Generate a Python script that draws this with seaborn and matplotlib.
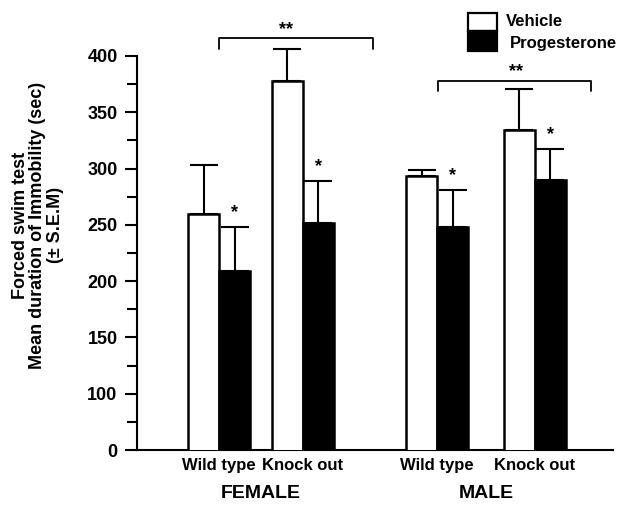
import numpy as np
import pandas as pd
import seaborn as sns
import matplotlib.pyplot as plt
import matplotlib.transforms as mtransforms
from matplotlib.patches import Rectangle

sexes = ["FEMALE"] * 4 + ["MALE"] * 4
genotypes = ["Wild type", "Wild type", "Knock out", "Knock out"] * 2
treatments = ["Vehicle", "Progesterone"] * 4
immobility = [260, 209, 378, 252, 293, 248, 334, 290]
sem = [43, 39, 28, 37, 6, 33, 37, 27]
stars = ["", "*", "", "*", "", "*", "", "*"]

# vehicle vs progesterone (KO vs WT) comparisons
bracket_y = [415.6, 377.8]
bracket_x = [(0.5, 5.46), (7.57, 12.49)]
bracket_star_x = [2.65, 10.08]

# bar centres in bar widths, groups are unevenly spaced in the original
bar_pos = [0, 1, 2.69, 3.69, 7.03, 8.03, 10.18, 11.18]

df = pd.DataFrame({"sex": sexes, "genotype": genotypes, "treatment": treatments,
                   "immobility": immobility, "sem": sem, "pos": bar_pos})

sns.set_style("ticks")
plt.rcParams["font.family"] = ["Liberation Sans", "DejaVu Sans"]
plt.rcParams["font.weight"] = "bold"
for k in ["text.color", "axes.labelcolor", "xtick.color", "ytick.color",
          "axes.edgecolor"]:
    plt.rcParams[k] = "black"

fig = plt.figure(figsize=(6.24, 5.11), dpi=100)
ax = fig.add_axes([137 / 624, 61 / 511, 476 / 624, 394 / 511])

sns.barplot(data=df, x="pos", y="immobility", hue="treatment",
            hue_order=["Vehicle", "Progesterone"], palette=["white", "black"],
            native_scale=True, dodge=False, width=1.0, edgecolor="black",
            linewidth=1.8, legend=False, ax=ax, zorder=3)

eb = ax.errorbar(df["pos"], df["immobility"], yerr=[np.zeros(len(df)), df["sem"]],
                 fmt="none", ecolor="black", elinewidth=1.5, capsize=10,
                 capthick=1.5, zorder=2)
for a in list(eb.lines[1]) + list(eb.lines[2]):
    a.set_clip_on(False)

for p, v, e, s in zip(df["pos"], df["immobility"], df["sem"], stars):
    if s:
        ax.text(p, v + e + 13, s, ha="center", va="center", fontsize=13,
                fontweight="bold")

for (x0, x1), y, sx in zip(bracket_x, bracket_y, bracket_star_x):
    ax.plot([x0, x0, x1, x1], [y - 9, y, y, y - 9], color="black", lw=1.3,
            clip_on=False)
    ax.text(sx, y + 8, "**", ha="center", va="center", fontsize=13,
            fontweight="bold", clip_on=False)

ax.set_xlim(-2.15, 13.2)
ax.set_ylim(50, 400)
ax.set_yticks([50, 100, 150, 200, 250, 300, 350, 400])
ax.set_yticklabels(["0", "100", "150", "200", "250", "300", "350", "400"],
                   fontsize=13, fontweight="bold")
ax.set_yticks(np.arange(75, 400, 50), minor=True)
ax.tick_params(axis="y", which="major", length=9, width=1.5, pad=5)
ax.tick_params(axis="y", which="minor", length=7.5, width=1.5)

pair_pos = df.groupby(["sex", "genotype"], sort=False)["pos"].mean()
ax.set_xticks(pair_pos.values)
ax.set_xticklabels([g for _, g in pair_pos.index], fontsize=12, fontweight="bold")
ax.tick_params(axis="x", length=0, pad=6)

trans = mtransforms.blended_transform_factory(ax.transData, fig.transFigure)
sex_pos = df.groupby("sex", sort=False)["pos"].mean()
for sx, p in sex_pos.items():
    ax.text(p, 1 - 493 / 511, sx, transform=trans, ha="center", va="center",
            fontsize=14, fontweight="bold")

ax.set_xlabel("")
ax.set_ylabel("")
fig.text(38 / 624, 1 - 225 / 511,
         "Forced swim test\nMean duration of Immobility (sec)\n(\u00b1 S.E.M)",
         rotation=90, ha="center", va="center", multialignment="center",
         fontsize=13, fontweight="bold", linespacing=1.0)

sns.despine(ax=ax)
for sp in ["left", "bottom"]:
    ax.spines[sp].set_linewidth(1.5)

# legend drawn as two stacked boxes like the original
fig.add_artist(Rectangle((468 / 624, 1 - 30.7 / 511), 29 / 624, 18 / 511,
                         transform=fig.transFigure, facecolor="white",
                         edgecolor="black", lw=1.6))
fig.add_artist(Rectangle((468 / 624, 1 - 50.7 / 511), 29 / 624, 20 / 511,
                         transform=fig.transFigure, facecolor="black",
                         edgecolor="black", lw=1.6))
fig.text(506 / 624, 1 - 22 / 511, "Vehicle", ha="left", va="center",
         fontsize=12, fontweight="bold")
fig.text(510 / 624, 1 - 43 / 511, "Progesterone", ha="left", va="center",
         fontsize=12, fontweight="bold")

fig.savefig("out.png", dpi=100)
